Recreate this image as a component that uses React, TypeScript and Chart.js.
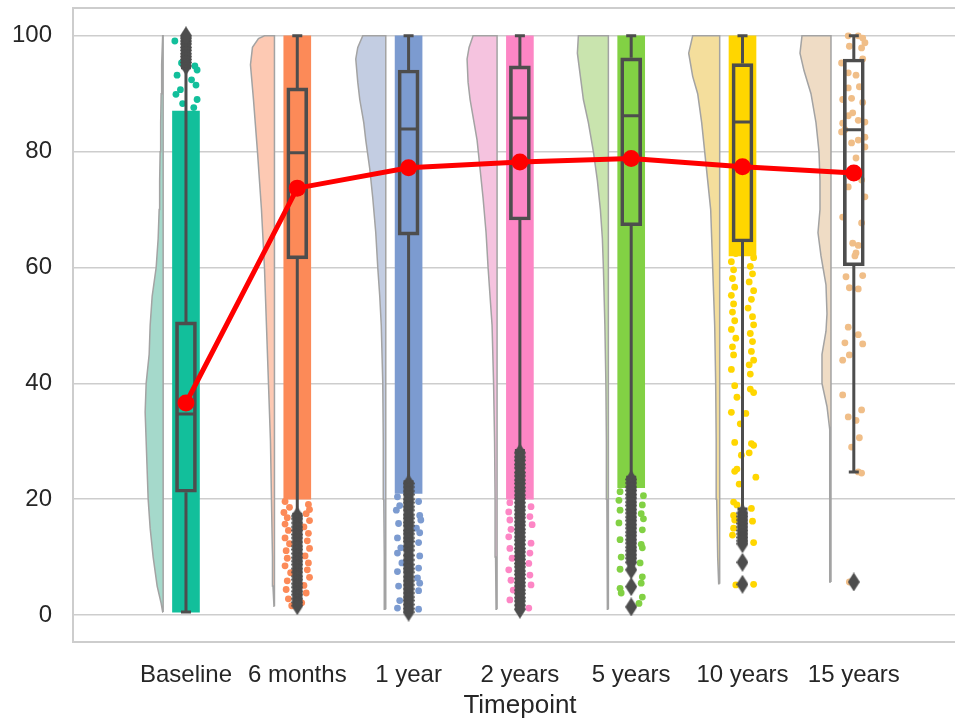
import React, { useEffect, useRef } from 'react';
import { Chart, registerables } from 'chart.js';

Chart.register(...registerables);

// ---------------- data ----------------
const categories = ['Baseline', '6 months', '1 year', '2 years', '5 years', '10 years', '15 years'];
const yTickValues = [0, 20, 40, 60, 80, 100];

const means = [36.6, 73.7, 77.2, 78.2, 78.8, 77.4, 76.3];
const meanCI = [0.9, 0.6, 0.5, 0.5, 0.5, 0.8, 1.3];

const q1 = [21.2, 61.5, 65.6, 68.2, 67.2, 64.4, 60.3];
const medians = [34.7, 79.8, 83.9, 85.8, 86.2, 85.1, 83.8];
const q3 = [50.6, 91.0, 94.1, 94.8, 96.2, 95.2, 96.0];
const whiskerLo = [0.5, 17.4, 23.0, 28.4, 23.8, 18.3, 24.7];
const whiskerHi = [94.5, 100, 100, 100, 100, 100, 100];

// dense part of each strip (points overlap into a solid band)
const bandLo = [0.5, 20.0, 21.0, 20.0, 22.0, 62.0, null];
const bandHi = [87.0, 100, 100, 100, 100, 100, null];

// sparse strip points: [value, jitter]
const sparseBaseline = [
  [99.1, -0.10], [95.3, -0.04], [94.8, 0.08], [94.1, 0.10], [93.2, -0.08], [92.4, 0.05],
  [91.5, 0.09], [90.7, -0.05], [89.9, -0.09], [89.0, 0.10], [88.3, -0.03], [87.6, 0.07],
];
const sparse6m = [
  [19.6, -0.11], [19.1, 0.10], [18.6, -0.07], [18.2, 0.11], [17.7, -0.12], [17.5, 0.08],
  [16.8, -0.09], [16.3, 0.11], [15.7, -0.11], [15.2, 0.06], [14.6, -0.08], [14.1, 0.10],
  [13.3, -0.11], [12.8, 0.09], [12.3, -0.07], [11.5, 0.11], [11.1, -0.10], [10.2, 0.07],
  [9.8, -0.09], [9.0, 0.10], [8.5, -0.11], [7.8, 0.09], [7.3, -0.06], [6.5, 0.11],
  [5.9, -0.09], [5.1, 0.06], [4.4, -0.10], [3.8, 0.08], [2.8, -0.08], [2.1, 0.04], [1.6, -0.05],
];
const sparse1y = [
  [20.4, -0.10], [19.6, 0.09], [18.9, -0.08], [18.1, -0.11], [17.2, 0.10], [16.4, 0.11],
  [15.8, -0.09], [15.0, 0.07], [14.2, 0.10], [13.3, -0.10], [12.5, 0.09], [11.6, -0.07],
  [10.7, -0.10], [10.2, 0.10], [9.0, -0.06], [8.1, 0.09], [7.5, -0.10], [6.4, 0.08],
  [5.5, 0.10], [5.0, -0.09], [4.2, 0.09], [2.5, -0.08], [1.2, -0.10], [1.0, 0.09],
];
const sparse2y = [
  [19.4, -0.09], [18.7, 0.10], [17.8, -0.10], [17.0, 0.09], [16.4, -0.09], [15.6, 0.11],
  [14.8, -0.08], [13.5, -0.10], [12.4, 0.10], [11.5, -0.09], [10.7, 0.09], [9.8, -0.07],
  [8.9, 0.08], [7.8, -0.10], [6.9, 0.09], [6.0, -0.08], [5.2, 0.10], [4.3, -0.06],
  [2.6, -0.09], [1.2, 0.08],
];
const sparse5y = [
  [21.3, -0.10], [20.6, 0.11], [19.8, -0.11], [19.0, 0.10], [18.1, -0.10], [17.5, 0.09],
  [16.6, 0.11], [15.9, -0.11], [14.7, 0.10], [13.0, -0.10], [12.2, 0.09], [11.6, 0.10],
  [10.0, -0.09], [9.0, 0.08], [7.9, -0.10], [6.6, 0.10], [5.5, 0.09], [4.6, -0.10],
  [3.8, -0.09], [3.1, 0.10], [2.0, 0.07],
];
const sparse10y = [
  [63.8, -0.09], [63.2, 0.08], [62.4, -0.06], [61.7, 0.10], [61.0, -0.10], [60.2, 0.07],
  [59.6, -0.08], [58.9, 0.09], [58.1, -0.09], [57.5, 0.06], [56.6, -0.07], [56.0, 0.10],
  [55.2, -0.10], [54.5, 0.08], [53.7, -0.08], [53.0, 0.05], [52.3, -0.09], [51.5, 0.09],
  [50.8, -0.07], [50.1, 0.10], [49.3, -0.10], [48.6, 0.07], [47.8, -0.06], [47.2, 0.09],
  [46.3, -0.09], [45.5, 0.08], [44.9, -0.08], [44.0, 0.10], [43.2, 0.06], [42.4, -0.10],
  [41.6, 0.07], [39.6, -0.07], [39.0, 0.07], [38.4, 0.10], [37.6, -0.05], [35.0, -0.10],
  [34.8, 0.03], [33.0, -0.02], [29.8, -0.07], [29.6, 0.08], [29.3, 0.10], [28.0, 0.06],
  [27.6, -0.01], [25.2, -0.05], [24.8, -0.07], [23.8, 0.12], [22.6, -0.03], [19.5, -0.08],
  [19.0, -0.05], [18.4, 0.08], [17.2, -0.08], [16.4, -0.07], [16.2, 0.09], [15.0, -0.08],
  [13.8, -0.09], [12.5, 0.10], [5.2, -0.06], [5.3, 0.10],
];
const sparse15y = [
  [100, -0.05], [100, 0.04], [99.6, 0.08], [98.2, -0.04], [97.9, 0.07], [98.8, 0.10],
  [95.3, -0.11], [96.0, 0.08], [93.6, -0.05], [93.2, 0.02], [91.0, -0.05], [91.2, 0.05],
  [89.0, -0.10], [89.2, -0.02], [88.5, 0.08], [86.7, -0.01], [86.2, -0.05], [85.1, 0.10],
  [84.9, -0.10], [85.4, 0.04], [83.4, -0.11], [83.8, -0.08], [82.5, 0.10], [82.0, 0.04],
  [81.5, -0.02], [80.8, 0.10], [78.9, 0.02], [75.1, 0.07], [73.9, -0.05], [72.2, 0.10],
  [68.7, -0.10], [67.7, 0.07], [64.2, -0.01], [63.8, 0.04], [62.5, 0.02], [62.0, 0.01],
  [58.4, -0.07], [58.6, 0.08], [56.5, -0.04], [56.3, 0.04], [49.7, -0.05], [48.4, 0.04],
  [47.0, -0.08], [46.8, 0.08], [44.9, -0.04], [44.0, -0.10], [38.0, -0.10], [35.4, 0.07],
  [34.2, -0.05], [33.6, 0.02], [30.6, 0.05], [29.0, -0.02], [24.5, 0.07], [24.7, 0.04],
  [5.7, -0.04],
];

// box-plot outliers
const outliersBaseline = [94.8, 95.4, 95.9, 96.4, 96.9, 97.5, 98.0, 98.6, 99.1, 99.6, 100];
const outliers6m = [17.1, 16.6, 15.9, 15.2, 14.6, 13.9, 13.3, 12.6, 11.9, 11.3, 10.6, 9.9, 9.3, 8.7, 8.0, 7.4, 6.7, 6.1, 5.4, 4.8, 4.1, 3.5, 2.8, 2.2, 1.6];
const outliers1y = [22.7, 22.1, 21.4, 20.8, 20.0, 19.4, 18.7, 18.1, 17.3, 16.7, 16.0, 15.4, 14.6, 14.0, 13.3, 12.7, 11.9, 11.2, 10.3, 9.5, 8.7, 8.0, 7.4, 6.6, 5.9, 5.2, 4.5, 3.8, 3.1, 2.5, 1.8, 1.1, 0.5];
const outliers2y = [28.0, 27.3, 26.7, 26.0, 25.4, 24.6, 24.0, 23.3, 22.7, 22.0, 21.4, 20.7, 20.1, 19.4, 18.7, 18.1, 17.4, 16.8, 16.1, 15.5, 14.8, 14.2, 13.5, 12.9, 12.2, 11.5, 10.9, 10.2, 9.6, 8.9, 8.3, 7.6, 7.0, 6.3, 5.6, 5.0, 4.3, 3.7, 3.0, 2.4, 1.7, 1.0];
const outliers5y = [23.4, 22.8, 22.1, 21.5, 20.8, 20.2, 19.5, 18.9, 18.2, 17.6, 16.9, 16.3, 15.6, 15.0, 14.3, 13.7, 13.0, 12.4, 11.7, 11.1, 10.4, 9.8, 9.1, 7.8, 4.9, 1.4];
const outliers10y = [17.6, 17.0, 16.4, 15.8, 15.2, 14.6, 14.0, 13.4, 12.8, 12.3, 9.1, 5.3];
const outliers15y = [5.7];

// half-violin densities: [value, density]
const violinBaseline = [[0.5, 0.5], [2, 2], [5, 6], [10, 10], [15, 13], [20, 15], [25, 16], [30, 17], [35, 18], [40, 17], [45, 14], [50, 13], [55, 11], [60, 7], [65, 5], [70, 4], [75, 3.5], [80, 3], [85, 2.5], [90, 2], [95, 1.5], [100, 0.5]];
const violin6m = [[1.5, 0.5], [5, 1.5], [10, 2], [20, 3], [30, 4], [40, 6], [50, 8], [60, 10], [70, 13], [80, 17], [89, 21], [95, 24], [98, 22], [99.5, 16], [100, 10]];
const violin1y = [[1, 1], [10, 1.5], [20, 2], [30, 2.5], [40, 3], [50, 4.5], [55, 6], [60, 8], [66, 10], [72, 13], [77, 16], [82, 20], [85, 22], [89, 26], [92, 28], [96, 30], [98, 28], [100, 23]];
const violin2y = [[1, 1], [10, 1.5], [20, 2], [30, 2.5], [40, 3.5], [50, 5], [55, 7], [60, 9], [66, 11], [72, 14], [77, 17], [82, 20], [85, 23], [89, 27], [92, 29], [96, 30], [98, 28], [100, 24]];
const violin5y = [[1, 1], [20, 1.5], [30, 2], [40, 2.5], [50, 3.5], [60, 5], [65, 6], [70, 8], [75, 11], [80, 15], [85, 20], [89, 25], [93, 28], [97, 31], [100, 30]];
const violin10y = [[5.4, 1], [10, 2], [20, 3], [30, 3.5], [40, 4], [50, 5], [60, 7], [70, 9], [75, 12], [80, 15], [85, 18], [90, 22], [93, 27], [97, 31], [100, 27]];
const violin15y = [[5.7, 1], [20, 1], [32, 1.5], [36, 4], [40, 9], [45, 9], [49, 5], [52, 4], [57, 5], [62, 10], [66, 13], [70, 11], [75, 11], [80, 12], [85, 15], [90, 20], [94, 27], [97, 31], [100, 29]];

// ---------------- styles ----------------
const pointColors = ['#12bf9b', '#fc8a58', '#7c9bd0', '#fd86c5', '#82d144', '#ffd600', '#f0be88'];
const violinColors = ['#a5d9cb', '#fdc9b3', '#c3cde2', '#f5c3df', '#c9e4ae', '#f4de9c', '#efdcc5'];
const BOX_GREY = '#4d4d4d';
const GRID = '#cdcdcd';
const TEXT = '#262626';
const FONT = "'Liberation Sans', Arial, Helvetica, sans-serif";
const VIOLIN_EDGE = -0.205;
const VIOLIN_SCALE = 1 / 111.3;
const MEDIAN_HALF = 0.085;
const CAP_HALF = 0.045;

const violins = [violinBaseline, violin6m, violin1y, violin2y, violin5y, violin10y, violin15y];
const sparse = [sparseBaseline, sparse6m, sparse1y, sparse2y, sparse5y, sparse10y, sparse15y];
const outliers = [outliersBaseline, outliers6m, outliers1y, outliers2y, outliers5y, outliers10y, outliers15y];

function makeDiamond(w: number, h: number, color: string) {
  const c = document.createElement('canvas');
  c.width = w;
  c.height = h;
  const ctx = c.getContext('2d')!;
  ctx.fillStyle = color;
  ctx.beginPath();
  ctx.moveTo(w / 2, 0);
  ctx.lineTo(w, h / 2);
  ctx.lineTo(w / 2, h);
  ctx.lineTo(0, h / 2);
  ctx.closePath();
  ctx.fill();
  return c;
}

function buildDatasets(diamond: HTMLCanvasElement) {
  const ds: any[] = [];

  // half violins
  violins.forEach((v, i) => {
    const edge = i + VIOLIN_EDGE;
    const yMin = v[0][0];
    const yMax = v[v.length - 1][0];
    const pts = [
      { x: edge, y: yMin },
      ...v.map(([y, d]) => ({ x: edge - d * VIOLIN_SCALE, y })),
      { x: edge, y: yMax },
      { x: edge, y: yMin },
    ];
    ds.push({
      type: 'line',
      data: pts,
      borderColor: '#a3a3a3',
      borderWidth: 1.5,
      backgroundColor: violinColors[i],
      fill: 'shape',
      pointRadius: 0,
      tension: 0,
      order: 60,
    });
  });

  // dense strip bands
  const bandData: any[] = [];
  const bandColors: string[] = [];
  categories.forEach((_, i) => {
    if (bandLo[i] != null && bandHi[i] != null) {
      bandData.push({ x: i, y: [bandLo[i], bandHi[i]] });
      bandColors.push(pointColors[i]);
    }
  });
  ds.push({
    type: 'bar',
    data: bandData,
    backgroundColor: bandColors,
    borderWidth: 0,
    barThickness: 27,
    grouped: false,
    order: 50,
  });

  // sparse strip points
  const stripData: any[] = [];
  const stripColors: string[] = [];
  sparse.forEach((arr, i) => {
    arr.forEach(([v, j]) => {
      stripData.push({ x: i + j, y: v });
      stripColors.push(pointColors[i]);
    });
  });
  ds.push({
    type: 'scatter',
    data: stripData,
    pointBackgroundColor: stripColors,
    pointBorderWidth: 0,
    pointRadius: 3.4,
    order: 45,
  });

  // boxes
  ds.push({
    type: 'bar',
    data: categories.map((_, i) => ({ x: i, y: [q1[i], q3[i]] })),
    backgroundColor: 'rgba(0,0,0,0)',
    borderColor: BOX_GREY,
    borderWidth: 3,
    borderSkipped: false,
    barThickness: 21,
    grouped: false,
    order: 40,
  });

  // whiskers + caps
  const wData: any[] = [];
  categories.forEach((_, i) => {
    wData.push({ x: i, y: q3[i] }, { x: i, y: whiskerHi[i] }, { x: i, y: null });
    wData.push({ x: i - CAP_HALF, y: whiskerHi[i] }, { x: i + CAP_HALF, y: whiskerHi[i] }, { x: i, y: null });
    wData.push({ x: i, y: q1[i] }, { x: i, y: whiskerLo[i] }, { x: i, y: null });
    wData.push({ x: i - CAP_HALF, y: whiskerLo[i] }, { x: i + CAP_HALF, y: whiskerLo[i] }, { x: i, y: null });
  });
  ds.push({
    type: 'line',
    data: wData,
    borderColor: BOX_GREY,
    borderWidth: 3,
    pointRadius: 0,
    spanGaps: false,
    fill: false,
    order: 35,
  });

  // medians
  const mData: any[] = [];
  categories.forEach((_, i) => {
    mData.push({ x: i - MEDIAN_HALF, y: medians[i] }, { x: i + MEDIAN_HALF, y: medians[i] }, { x: i, y: null });
  });
  ds.push({
    type: 'line',
    data: mData,
    borderColor: BOX_GREY,
    borderWidth: 3,
    pointRadius: 0,
    spanGaps: false,
    fill: false,
    order: 34,
  });

  // outliers
  const oData: any[] = [];
  outliers.forEach((arr, i) => arr.forEach((v) => oData.push({ x: i, y: v })));
  ds.push({
    type: 'scatter',
    data: oData,
    pointStyle: diamond,
    pointRadius: 6,
    order: 30,
  });

  // mean CI
  const ciData: any[] = [];
  categories.forEach((_, i) => {
    ciData.push({ x: i, y: means[i] - meanCI[i] }, { x: i, y: means[i] + meanCI[i] }, { x: i, y: null });
  });
  ds.push({
    type: 'line',
    data: ciData,
    borderColor: '#ff0000',
    borderWidth: 6,
    pointRadius: 0,
    spanGaps: false,
    fill: false,
    order: 11,
  });

  // mean line
  ds.push({
    type: 'line',
    data: categories.map((_, i) => ({ x: i, y: means[i] })),
    borderColor: '#ff0000',
    borderWidth: 5,
    pointRadius: 8.5,
    pointBackgroundColor: '#ff0000',
    pointBorderWidth: 0,
    fill: false,
    order: 10,
  });

  return ds;
}

const framePlugin = {
  id: 'frame',
  beforeDatasetsDraw(chart: any) {
    const { ctx, chartArea: a } = chart;
    ctx.save();
    ctx.strokeStyle = GRID;
    ctx.lineWidth = 2;
    ctx.strokeRect(a.left, a.top, a.right - a.left, a.bottom - a.top);
    ctx.restore();
  },
};

export default function App() {
  const ref = useRef<HTMLCanvasElement | null>(null);

  useEffect(() => {
    document.body.style.margin = '0';
    const canvas = ref.current!;
    const diamond = makeDiamond(12, 19, BOX_GREY);
    const chart = new Chart(canvas, {
      type: 'scatter',
      data: { datasets: buildDatasets(diamond) },
      plugins: [framePlugin],
      options: {
        responsive: false,
        animation: false,
        events: [],
        layout: { autoPadding: false, padding: { top: 8, left: 0, right: 0, bottom: 0 } },
        plugins: { legend: { display: false }, tooltip: { enabled: false } },
        scales: {
          x: {
            type: 'linear',
            min: -1.015,
            max: 7.017,
            offset: false,
            grid: { display: false, drawTicks: false },
            border: { display: false },
            afterBuildTicks: (s: any) => {
              s.ticks = categories.map((_, i) => ({ value: i }));
            },
            afterFit: (s: any) => {
              s.height = 79;
              s.paddingLeft = 0;
              s.paddingRight = 0;
            },
            ticks: {
              autoSkip: false,
              maxRotation: 0,
              minRotation: 0,
              padding: 19,
              color: TEXT,
              font: { family: FONT, size: 24 },
              callback: (v: any) => categories[Math.round(Number(v))] ?? '',
            },
            title: {
              display: true,
              text: 'Timepoint',
              color: TEXT,
              font: { family: FONT, size: 26 },
              padding: { top: 0, bottom: 0 },
            },
          },
          y: {
            type: 'linear',
            min: -4.66,
            max: 104.8,
            grid: { color: GRID, lineWidth: 1.5, drawTicks: false },
            border: { display: false },
            afterBuildTicks: (s: any) => {
              s.ticks = yTickValues.map((v) => ({ value: v }));
            },
            afterFit: (s: any) => {
              s.width = 73;
              s.paddingTop = 0;
              s.paddingBottom = 0;
            },
            ticks: {
              padding: 21,
              color: TEXT,
              font: { family: FONT, size: 24 },
            },
          },
        },
      } as any,
    });
    return () => chart.destroy();
  }, []);

  return (
    <div style={{ width: 955, height: 721, overflow: 'hidden' }}>
      <canvas ref={ref} width={967} height={721} style={{ display: 'block' }} />
    </div>
  );
}
